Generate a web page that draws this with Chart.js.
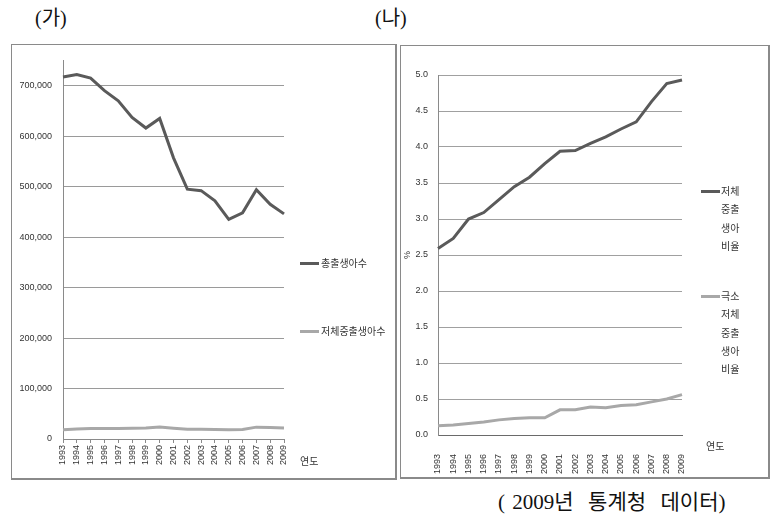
<!DOCTYPE html>
<html>
<head>
<meta charset="utf-8">
<script src="https://cdn.jsdelivr.net/npm/chart.js@4.4.1/dist/chart.umd.min.js"></script>
<style>
  body { margin: 0; background: #fff; width: 775px; height: 515px; position: relative; overflow: hidden; }
  .box { position: absolute; box-sizing: border-box; border: 1px solid #8a8a8a; border-right-width: 2px; border-bottom-width: 2px; }
  canvas { position: absolute; }
  .ttl { position: absolute; font-family: "Liberation Serif", "Noto Sans CJK KR", serif; font-size: 20px; color: #111; white-space: nowrap; }
  .lg { position: absolute; font-family: "Noto Sans CJK KR", sans-serif; font-size: 10px; color: #333; line-height: 18.3px; }
  .sw { position: absolute; height: 3px; width: 19px; }
</style>
</head>
<body>
<div class="ttl" style="left:35px; top:2px;">(가)</div>
<div class="ttl" style="left:375px; top:2px;">(나)</div>

<div class="box" style="left:11px; top:44px; width:386px; height:436px;"></div>
<div class="box" style="left:400px; top:45px; width:370px; height:434px;"></div>

<canvas id="birthsChart" width="386" height="436" style="left:11px; top:44px;"></canvas>
<canvas id="rateChart" width="370" height="434" style="left:400px; top:45px;"></canvas>

<!-- legends (가) -->
<div class="sw" style="left:300px; top:262px; background:#5a5a5a;"></div>
<div class="lg" style="left:321px; top:254px;">총출생아수</div>
<div class="sw" style="left:300px; top:330px; background:#a8a8a8;"></div>
<div class="lg" style="left:321px; top:322px;">저체중출생아수</div>
<div class="lg" style="left:300px; top:452px;">연도</div>

<!-- legends (나) -->
<div class="sw" style="left:701px; top:190px; background:#5a5a5a;"></div>
<div class="lg" style="left:721px; top:182px;">저체<br>중출<br>생아<br>비율</div>
<div class="sw" style="left:701px; top:295px; background:#a8a8a8;"></div>
<div class="lg" style="left:721px; top:287px;">극소<br>저체<br>중출<br>생아<br>비율</div>
<div class="lg" style="left:706px; top:437px;">연도</div>

<div class="ttl" style="left:498px; top:485px; font-size:21px; word-spacing:2px;">(&nbsp;2009년&nbsp;&nbsp;통계청&nbsp;&nbsp;데이터)</div>

<script>
const years = ['1993', '1994', '1995', '1996', '1997', '1998', '1999', '2000', '2001',
    '2002', '2003', '2004', '2005', '2006', '2007', '2008', '2009'];

// (가) births
const totalBirths = [717000, 722000, 715000, 690000, 670000, 637000, 616000, 635000, 557000,
    495000, 492000, 472000, 435000, 448000, 494000, 465000, 446000];
const lowWeightBirths = [18500, 20000, 21000, 21000, 21000, 21500, 22000, 24000, 21500,
    19500, 19500, 19000, 18500, 19000, 23500, 23000, 22000];
const birthTicks = [0, 100000, 200000, 300000, 400000, 500000, 600000, 700000];

// (나) rates, %
const lowWeightRate = [2.59, 2.73, 3.00, 3.09, 3.27, 3.45, 3.58, 3.77, 3.94,
    3.95, 4.05, 4.14, 4.25, 4.35, 4.63, 4.88, 4.93];
const veryLowWeightRate = [0.13, 0.14, 0.16, 0.18, 0.21, 0.23, 0.24, 0.24, 0.35,
    0.35, 0.39, 0.38, 0.41, 0.42, 0.46, 0.50, 0.56];

const tickFont = { family: '"Liberation Sans", Arial, sans-serif', size: 9 };
const dark = '#5a5a5a';
const light = '#a8a8a8';

function lineSet(label, data, color) {
    return {
        label: label,
        data: data,
        borderColor: color,
        backgroundColor: color,
        borderWidth: 3,
        pointRadius: 0,
        tension: 0,
        fill: false,
    };
}

// (가)
const birthsCtx = document.getElementById('birthsChart').getContext('2d');
new Chart(birthsCtx, {
    type: 'line',
    data: {
        labels: years,
        datasets: [
            lineSet('총출생아수', totalBirths, dark),
            lineSet('저체중출생아수', lowWeightBirths, light),
        ],
    },
    options: {
        responsive: false,
        animation: false,
        devicePixelRatio: 1,
        layout: { padding: { left: 0, top: 11, right: 113, bottom: 0 } },
        plugins: { legend: { display: false }, tooltip: { enabled: false } },
        scales: {
            x: {
                offset: false,
                grid: { drawOnChartArea: false, drawTicks: true, tickLength: 4, color: '#8a8a8a' },
                border: { color: '#8a8a8a', width: 1 },
                ticks: { font: tickFont, color: '#333', maxRotation: 90, minRotation: 90, autoSkip: false, padding: 2 },
                afterFit: (scale) => { scale.height = 41; },
            },
            y: {
                min: 0,
                max: 750000,
                grid: { drawTicks: false, color: '#9a9a9a' },
                border: { color: '#8a8a8a', width: 1 },
                ticks: {
                    font: tickFont,
                    color: '#333',
                    padding: 11,
                    callback: (v) => v.toLocaleString('en-US'),
                },
                // axis runs to 750,000 but labels/gridlines stop at 700,000
                afterBuildTicks: (scale) => { scale.ticks = birthTicks.map(v => ({ value: v })); },
                afterFit: (scale) => { scale.width = 52; },
            },
        },
    },
});

// (나)
const rateCtx = document.getElementById('rateChart').getContext('2d');
new Chart(rateCtx, {
    type: 'line',
    data: {
        labels: years,
        datasets: [
            lineSet('저체중출생아비율', lowWeightRate, dark),
            lineSet('극소저체중출생아비율', veryLowWeightRate, light),
        ],
    },
    options: {
        responsive: false,
        animation: false,
        devicePixelRatio: 1,
        layout: { padding: { left: 0, top: 30, right: 88, bottom: 0 } },
        plugins: { legend: { display: false }, tooltip: { enabled: false } },
        scales: {
            x: {
                offset: false,
                grid: { display: false },
                border: { color: '#6a6a6a', width: 1 },
                ticks: { font: tickFont, color: '#333', maxRotation: 90, minRotation: 90, autoSkip: false, padding: 11 },
                afterFit: (scale) => { scale.height = 44; },
            },
            y: {
                min: 0,
                max: 5,
                grid: { drawTicks: false, color: '#a0a0a0' },
                border: { color: '#8a8a8a', width: 1 },
                title: { display: true, text: '%', font: tickFont, color: '#333', padding: { top: 2, bottom: 0 } },
                ticks: {
                    stepSize: 0.5,
                    font: tickFont,
                    color: '#333',
                    padding: 10,
                    callback: (v) => v.toFixed(1),
                },
                afterFit: (scale) => { scale.width = 38; },
            },
        },
    },
});
</script>
</body>
</html>
